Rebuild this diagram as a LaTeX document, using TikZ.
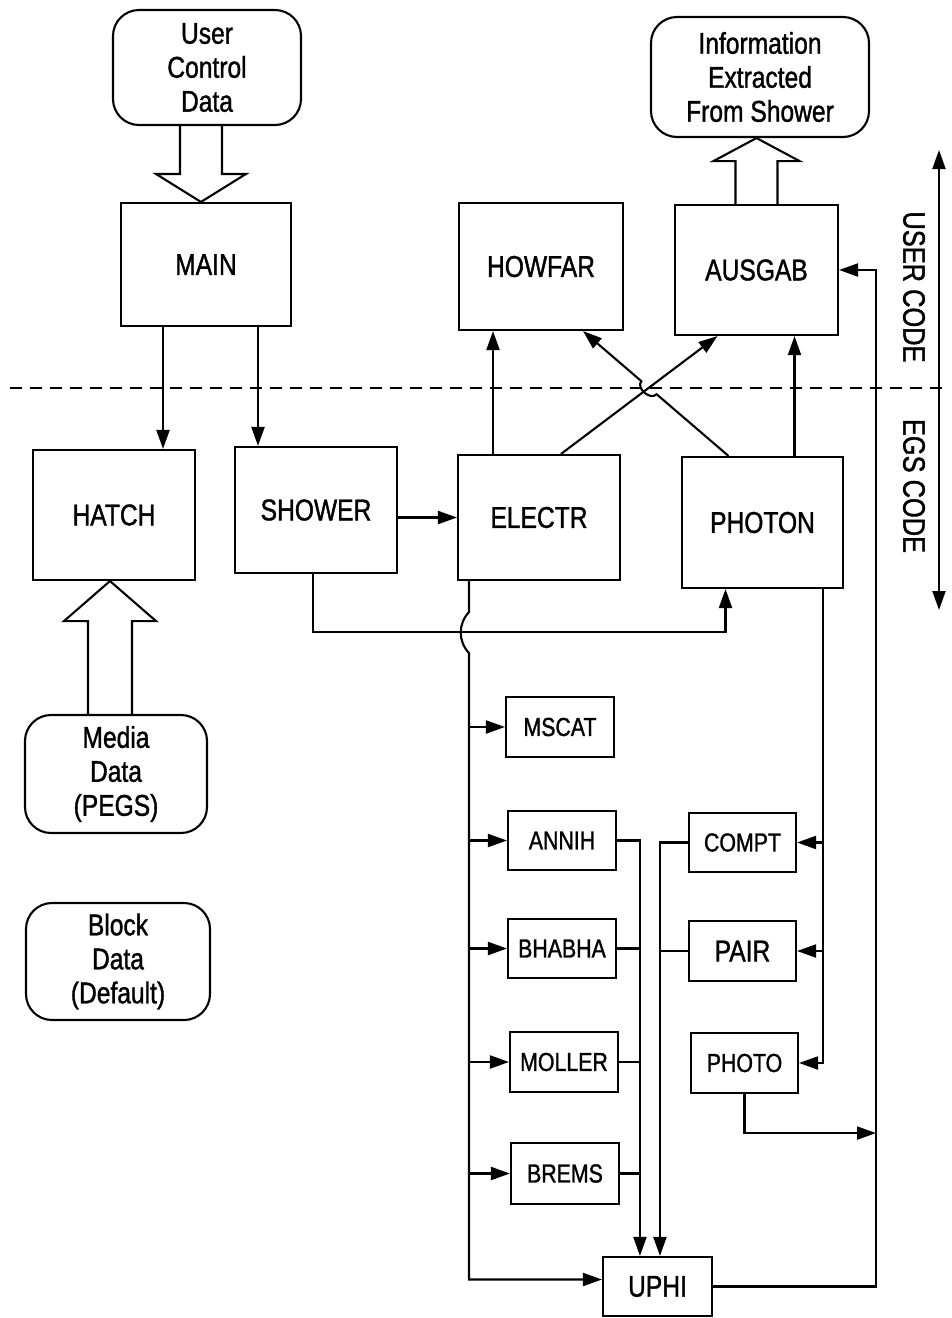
\documentclass[tikz,border=0pt]{standalone}
\usepackage{fontspec}
\setmainfont{Liberation Sans}[FakeStretch=0.82, FakeBold=1.2]
\usetikzlibrary{arrows.meta,calc}
\begin{document}
\begin{tikzpicture}[x=1pt,y=-1pt,
  box/.style={draw, line width=2.1pt, rectangle, inner sep=0pt, font=\fontsize{30}{34}\selectfont},
  sbox/.style={box, font=\fontsize{26}{30}\selectfont},
  rbox/.style={draw, line width=2.1pt, rounded corners=26pt, align=center, inner sep=0pt, font=\fontsize{30}{34}\selectfont},
  conn/.style={line width=2.1pt},
  arr/.style={conn, -{Triangle[length=19pt,width=13pt]}},
  hollow/.style={line width=2.1pt, line join=miter},
  sidelabel/.style={rotate=-90, font=\fontsize{31}{34}\selectfont}]
\useasboundingbox (0,0) rectangle (951,1318);

% rounded data boxes
\node[rbox, minimum width=188pt, minimum height=115pt] (UCD) at (207,67.5) {User\\Control\\Data};
\node[rbox, minimum width=218pt, minimum height=120pt] (INFO) at (760,77) {Information\\Extracted\\From Shower};
\node[rbox, minimum width=182pt, minimum height=118pt] (MEDIA) at (116,774) {Media\\Data\\(PEGS)};
\node[rbox, minimum width=184pt, minimum height=117pt] (BLOCK) at (118,961.5) {Block\\Data\\(Default)};

% large boxes
\node[box, minimum width=170pt, minimum height=123pt] (MAIN) at (206,264.5) {MAIN};
\node[box, minimum width=162pt, minimum height=130pt] (HATCH) at (114,515) {HATCH};
\node[box, minimum width=162pt, minimum height=126pt] (SHOWER) at (316,510) {SHOWER};
\node[box, minimum width=162pt, minimum height=125pt] (ELECTR) at (539,517.5) {ELECTR};
\node[box, minimum width=161pt, minimum height=131pt] (PHOTON) at (762.5,522.5) {PHOTON};
\node[box, minimum width=164pt, minimum height=127pt] (HOWFAR) at (541,266.5) {HOWFAR};
\node[box, minimum width=163pt, minimum height=130pt] (AUSGAB) at (756.5,270) {AUSGAB};

% small boxes
\node[sbox, minimum width=108pt, minimum height=60pt] (MSCAT) at (560,727) {MSCAT};
\node[sbox, minimum width=108pt, minimum height=59pt] (ANNIH) at (562,840.5) {ANNIH};
\node[sbox, minimum width=108pt, minimum height=59pt] (BHABHA) at (562,948.5) {BHABHA};
\node[sbox, minimum width=108pt, minimum height=60pt] (MOLLER) at (564,1062) {MOLLER};
\node[sbox, minimum width=108pt, minimum height=61pt] (BREMS) at (565,1173.5) {BREMS};
\node[box, minimum width=109pt, minimum height=59pt] (UPHI) at (657.5,1286.5) {UPHI};
\node[sbox, minimum width=107pt, minimum height=59pt] (COMPT) at (742.5,842.5) {COMPT};
\node[box, minimum width=107pt, minimum height=60pt] (PAIR) at (742.5,951) {PAIR};
\node[sbox, minimum width=107pt, minimum height=60pt] (PHOTO) at (744.5,1063) {PHOTO};

% hollow arrows
\coordinate (t1) at ($(MAIN.north)+(-5,0)$);
\coordinate (b1) at (t1 |- UCD.south);
\draw[hollow] ($(b1)+(-21,0)$) -- ($(t1)+(-21,-28)$) -- ($(t1)+(-45,-28)$) -- (t1) -- ($(t1)+(45,-28)$) -- ($(t1)+(21,-28)$) -- ($(b1)+(21,0)$);
\coordinate (t2) at (AUSGAB.north |- INFO.south);
\coordinate (b2) at (AUSGAB.north);
\draw[hollow] ($(b2)+(-21,0)$) -- ($(t2)+(-21,23)$) -- ($(t2)+(-43,23)$) -- (t2) -- ($(t2)+(43,23)$) -- ($(t2)+(21,23)$) -- ($(b2)+(21,0)$);
\coordinate (t3) at ($(HATCH.south)+(-4,0)$);
\coordinate (b3) at (t3 |- MEDIA.north);
\draw[hollow] ($(b3)+(-22,0)$) -- ($(t3)+(-22,40)$) -- ($(t3)+(-46,40)$) -- (t3) -- ($(t3)+(46,40)$) -- ($(t3)+(22,40)$) -- ($(b3)+(22,0)$);

% user / EGS divider
\coordinate (d1) at (10,388);
\coordinate (d2) at (948,388);
\draw[line width=2.1pt, dash pattern=on 12pt off 8pt] (d1) -- (d2);
\coordinate (v1) at (939,150);
\coordinate (v2) at (939,610);
\draw[line width=2.1pt, {Triangle[length=19pt,width=13pt]}-{Triangle[length=19pt,width=13pt]}] (v1) -- (v2);
\node[sidelabel] (UC) at (914,287) {USER CODE};
\node[sidelabel] (EC) at (914,486) {EGS CODE};

% MAIN calls
\coordinate (m1) at ($(MAIN.south)+(-43,0)$);
\draw[arr] (m1) -- (m1 |- HATCH.north);
\coordinate (m2) at ($(MAIN.south)+(52,0)$);
\draw[arr] (m2) -- (m2 |- SHOWER.north);

% ELECTR / PHOTON to user routines
\coordinate (e1) at ($(ELECTR.north)+(-46,0)$);
\draw[arr] (e1) -- (e1 |- HOWFAR.south);
\coordinate (e2) at ($(ELECTR.north)+(22,0)$);
\coordinate (a2) at ($(AUSGAB.south)+(-39,0)$);
\draw[arr] (e2) -- (a2);
\coordinate (p1) at ($(PHOTON.north)+(-34,0)$);
\coordinate (h1) at ($(HOWFAR.south)+(42,0)$);
\coordinate (X) at (intersection of e2--a2 and p1--h1);
\coordinate (q1) at ($(X)!10pt!(p1)$);
\coordinate (q2) at ($(X)!10pt!(h1)$);
\draw[arr] (p1) -- (q1) .. controls ($(q1)!9pt!90:(X)$) and ($(q2)!9pt!-90:(X)$) .. (q2) -- (h1);
\coordinate (p2) at ($(PHOTON.north)+(32,0)$);
\draw[arr] (p2) -- (p2 |- AUSGAB.south);

% SHOWER calls
\draw[arr] (SHOWER.east |- ELECTR.west) -- (ELECTR.west);
\coordinate (s1) at ($(SHOWER.south)+(-3,0)$);
\coordinate (s2) at ($(s1)+(0,58)$);
\coordinate (p3) at ($(PHOTON.south)+(-37,0)$);
\draw[arr] (s1) -- (s2) -| (p3);

% electron trunk
\coordinate (eb) at ($(ELECTR.south west)+(12,0)$);
\coordinate (j1) at ($(eb)+(0,31)$);
\coordinate (j2) at ($(eb)+(0,72)$);
\coordinate (uw) at ($(UPHI.west)+(0,-7)$);
\draw[arr] (eb) -- (j1) .. controls ($(j1)+(-11,12)$) and ($(j2)+(-11,-12)$) .. (j2) -- (j2 |- uw) -- (uw);
\foreach \n in {MSCAT,ANNIH,BHABHA,MOLLER,BREMS} \draw[arr] (eb |- \n.west) -- (\n.west);

% electron collector to UPHI
\coordinate (ec) at ($(UPHI.north west)+(38,0)$);
\draw[arr] (ANNIH.east) -- (ec |- ANNIH.east) -- (ec |- UPHI.north);
\foreach \n in {BHABHA,MOLLER,BREMS} \draw[conn] (\n.east) -- (ec |- \n.east);

% photon collector to UPHI
\coordinate (pc) at ($(UPHI.north west)+(58,0)$);
\draw[arr] (COMPT.west) -- (pc |- COMPT.west) -- (pc |- UPHI.north);
\draw[conn] (PAIR.west) -- (pc |- PAIR.west);

% photon trunk
\coordinate (pt) at ($(PHOTON.south east)+(-21,0)$);
\draw[arr] (pt) -- (pt |- PHOTO.east) -- (PHOTO.east);
\foreach \n in {COMPT,PAIR} \draw[arr] (pt |- \n.east) -- (\n.east);

% return line to AUSGAB
\coordinate (rl) at (876,700);
\draw[arr] (UPHI.east) -- (rl |- UPHI.east) -- (rl |- AUSGAB.east) -- (AUSGAB.east);
\coordinate (pj) at ($(PHOTO.south)+(0,39)$);
\draw[arr] (PHOTO.south) -- (pj) -- (pj -| rl);
\end{tikzpicture}
\end{document}
